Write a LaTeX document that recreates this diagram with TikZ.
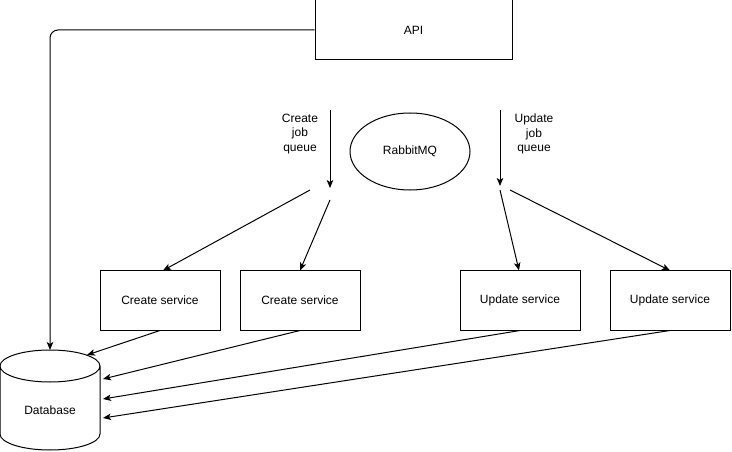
\documentclass[tikz,border=0pt]{standalone}
\usepackage{fontspec}
\setmainfont{Liberation Sans}
\usetikzlibrary{arrows.meta,shapes.geometric}
\begin{document}
\begin{tikzpicture}[x=1pt,y=-1pt,
  every node/.style={font=\fontsize{12}{14.5}\selectfont, inner sep=0pt},
  box/.style={draw, line width=1pt, minimum width=120pt, minimum height=60pt},
  conn/.style={line width=1pt, -{Stealth[length=8pt,width=6.5pt,inset=2pt]}},
  lbl/.style={align=center}]
\useasboundingbox (0,0) rectangle (732,452);
% API
\node[box, minimum width=197pt, minimum height=60pt] (api) at (413.5,30) {API};
% RabbitMQ
\node[draw, line width=1pt, ellipse, minimum width=120pt, minimum height=77pt] (mq) at (410,151.5) {RabbitMQ};
% services
\node[box] (c1) at (160,300) {Create service};
\node[box] (c2) at (300,300) {Create service};
\node[box] (u1) at (520,300) {Update service};
\node[box] (u2) at (670,300) {Update service};
% database cylinder
\node[minimum width=100pt, minimum height=100pt] (db) at (50,400) {};
\draw[line width=1pt] (0,366) arc[start angle=180, end angle=360, x radius=50, y radius=16]
  arc[start angle=0, end angle=180, x radius=50, y radius=16] -- (0,434)
  arc[start angle=180, end angle=0, x radius=50, y radius=16] -- (100,366);
\node at (50,410) {Database};
\coordinate (dbtop) at (50,350);
\coordinate (d1) at (87,355);
\coordinate (d2) at (103,379);
\coordinate (d3) at (103,399);
\coordinate (d4) at (103,418);
% queue arrows
\coordinate (cq0) at (330,110);
\coordinate (cq1) at (330,188);
\coordinate (uq0) at (500,110);
\coordinate (uq1) at (500,186);
\draw[conn] (cq0) -- (cq1);
\draw[conn] (uq0) -- (uq1);
\node[lbl] (cl) at (300,134) {Create\\job\\queue};
\node[lbl] (ul) at (534,134) {Update\\job\\queue};
% fan-out
\coordinate (cf1) at (310,190);
\coordinate (cf2) at (330,200);
\coordinate (uf1) at (500,190);
\coordinate (uf2) at (510,190);
\draw[conn] (cf1) -- (163,270.5);
\draw[conn] (cf2) -- (300,270.5);
\draw[conn] (uf1) -- (519,270.5);
\draw[conn] (uf2) -- (670,270.5);
% API to database
\draw[conn, rounded corners=8pt] (api.west) -- (50,30) -- (dbtop);
% services to database
\draw[conn] (c1.south) -- (d1);
\draw[conn] (c2.south) -- (d2);
\draw[conn] (u1.south) -- (d3);
\draw[conn] (u2.south) -- (d4);
\end{tikzpicture}
\end{document}
